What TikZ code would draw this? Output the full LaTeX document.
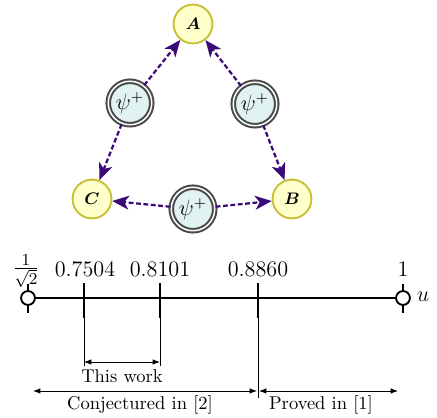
\documentclass[tikz,border=0pt]{standalone}
\usepackage{amsmath,bm}
\usetikzlibrary{arrows.meta}
\definecolor{nodefill}{HTML}{FFFFCC}
\definecolor{nodeedge}{HTML}{C8BE32}
\definecolor{psifill}{HTML}{E0F2F2}
\definecolor{psiedge}{HTML}{4A4A4A}
\definecolor{arrowcol}{HTML}{3C0A78}
\begin{document}
\begin{tikzpicture}[x=0.54pt,y=-0.54pt,
  party/.style={circle,draw=nodeedge,fill=nodefill,line width=1pt,minimum size=21pt,inner sep=0pt,font=\small},
  source/.style={circle,draw=psiedge,fill=psifill,double=white,double distance=0.8pt,line width=1.1pt,minimum size=23.5pt,inner sep=0pt,font=\large},
  link/.style={draw=arrowcol,line width=1.2pt,dash pattern=on 2.6pt off 1.4pt,-{Stealth[length=9pt,width=7.5pt,inset=2.5pt,fill=arrowcol]}},
  axis/.style={line width=1.6pt},
  tickmark/.style={line width=1.6pt},
  guide/.style={line width=0.5pt},
  spanarrow/.style={line width=0.5pt,{Latex[length=4pt,width=3pt]}-{Latex[length=4pt,width=3pt]}},
  endpt/.style={circle,draw,fill=white,line width=1pt,minimum size=7.5pt,inner sep=0pt},
  lbl/.style={font=\fontsize{13}{16}\selectfont,inner sep=0pt,anchor=base}]
\useasboundingbox (0,0) rectangle (437,418);
% triangle
\node[party] (A) at (193,24) {$\bm{A}$};
\node[party] (C) at (92,199) {$\bm{C}$};
\node[party] (B) at (292,199) {$\bm{B}$};
\node[source] (sL) at (130,103) {$\psi^+$};
\node[source] (sR) at (255,104) {$\psi^+$};
\node[source] (sB) at (193,209) {$\psi^+$};
\draw[link] (sL) -- (A);
\draw[link] (sL) -- (C);
\draw[link] (sR) -- (A);
\draw[link] (sR) -- (B);
\draw[link] (sB) -- (C);
\draw[link] (sB) -- (B);
% number line
\coordinate (p0) at (28,298);
\coordinate (p1) at (84,298);
\coordinate (p2) at (160,298);
\coordinate (p3) at (258,298);
\coordinate (p4) at (403,298);
\draw[axis] (p0) -- (p4);
\draw[tickmark] (p0) ++(0,-14) -- ++(0,29);
\draw[tickmark] (p4) ++(0,-14) -- ++(0,29);
\foreach \p in {p1,p2,p3}{\draw[tickmark] (\p) ++(0,-15) -- ++(0,35);}
\draw[guide] (p1) -- ++(0,68);
\draw[guide] (p2) -- ++(0,68);
\draw[guide] (p3) -- ++(0,100);
\node[endpt] (e0) at (p0) {};
\node[endpt] (e4) at (p4) {};
\node[lbl] (l0) at (26,274) {$\tfrac{1}{\sqrt{2}}$};
\node[lbl] (l1) at (85,277) {$0.7504$};
\node[lbl] (l2) at (160,277) {$0.8101$};
\node[lbl] (l3) at (258,277) {$0.8860$};
\node[lbl] (l4) at (403,277) {$1$};
\node[lbl] (u) at (423,302) {$u$};
% ranges
\coordinate (tw1) at (84,362);
\coordinate (tw2) at (160,362);
\draw[spanarrow] (tw1) -- (tw2);
\node (tw) at (122,376) {This work};
\coordinate (c1) at (33,391);
\coordinate (c2) at (257,391);
\coordinate (c3) at (259,391);
\coordinate (c4) at (398,391);
\draw[spanarrow] (c1) -- (c2);
\draw[spanarrow] (c3) -- (c4);
\node (cj) at (140,405) {Conjectured in [2]};
\node (pr) at (321,405) {Proved in [1]};
\end{tikzpicture}
\end{document}
